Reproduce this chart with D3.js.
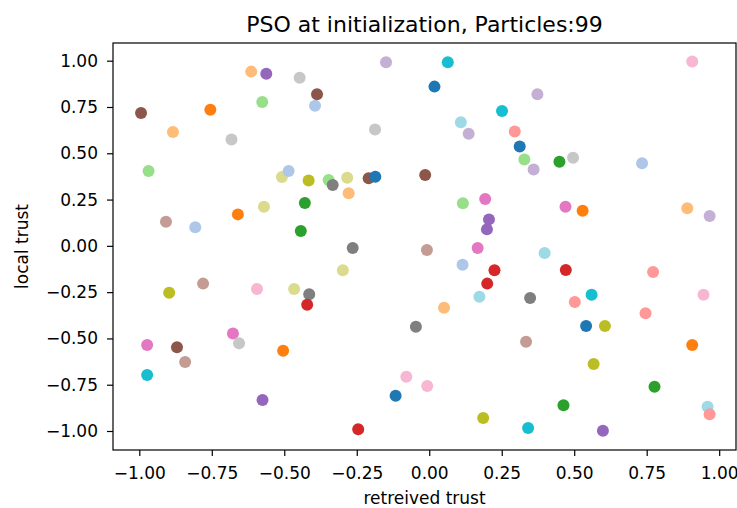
<!DOCTYPE html>
<html>
<head>
<meta charset="utf-8">
<script src="https://cdn.jsdelivr.net/npm/d3@7"></script>
<style>
    body { margin: 0; background: #fff; }
    #chart { width: 737px; height: 508px; overflow: hidden; }
    text { font-family: "DejaVu Sans", sans-serif; fill: #000; }
</style>
</head>
<body>
<div id="chart"></div>
<script>
// matplotlib tab20 palette, colour of each particle is an index into it
const tab20 = ['#1f77b4', '#aec7e8', '#ff7f0e', '#ffbb78', '#2ca02c', '#98df8a', '#d62728', '#ff9896',
    '#9467bd', '#c5b0d5', '#8c564b', '#c49c94', '#e377c2', '#f7b6d2', '#7f7f7f', '#c7c7c7',
    '#bcbd22', '#dbdb8d', '#17becf', '#9edae5'];

const particleX = [-0.994, -0.884, -0.755, -0.682, -0.614, -0.562, -0.576, -0.447, -0.968, -0.508,
    -0.485, -0.416, -0.394, -0.387, -0.149, 0.064, 0.018, 0.251, 0.109, 0.136,
    0.295, 0.312, -0.187, -0.347, -0.333, -0.283, -0.209, -0.186, -0.014, -0.278,
    0.907, 0.373, 0.328, 0.360, 0.449, 0.496, 0.734, -0.429, -0.443, -0.908,
    -0.807, -0.660, -0.570, -0.897, -0.780, -0.594, -0.466, -0.414, -0.421, -0.677,
    -0.973, -0.264, -0.298, 0.116, 0.193, 0.206, 0.199, 0.167, -0.008, 0.115,
    0.225, 0.200, 0.173, 0.051, -0.046, 0.470, 0.529, 0.890, 0.967, 0.398,
    0.471, 0.772, 0.348, 0.502, 0.560, 0.946, 0.746, 0.541, 0.606, 0.334,
    0.907, -0.870, -0.842, -0.973, -0.656, -0.504, -0.575, -0.079, -0.007, -0.116,
    -0.245, 0.186, 0.567, 0.777, 0.463, 0.960, 0.967, 0.341, 0.599];

const particleY = [0.718, 0.615, 0.735, 0.575, 0.941, 0.930, 0.777, 0.908, 0.404, 0.372,
    0.404, 0.353, 0.757, 0.819, 0.991, 0.991, 0.860, 0.728, 0.667, 0.606,
    0.617, 0.536, 0.629, 0.356, 0.329, 0.368, 0.365, 0.373, 0.383, 0.284,
    0.996, 0.819, 0.467, 0.413, 0.454, 0.476, 0.446, 0.231, 0.080, 0.130,
    0.100, 0.170, 0.211, -0.253, -0.204, -0.233, -0.233, -0.262, -0.318, -0.474,
    -0.536, -0.012, -0.132, 0.230, 0.253, 0.143, 0.089, -0.012, -0.022, -0.102,
    -0.132, -0.204, -0.275, -0.334, -0.437, 0.211, 0.190, 0.203, 0.161, -0.039,
    -0.130, -0.141, -0.282, -0.303, -0.264, -0.264, -0.364, -0.433, -0.433, -0.518,
    -0.536, -0.548, -0.627, -0.698, -0.526, -0.566, -0.833, -0.707, -0.757, -0.809,
    -0.991, -0.930, -0.638, -0.761, -0.861, -0.869, -0.910, -0.984, -0.998];

const particleColor = [10, 3, 2, 15, 3, 8, 5, 15, 5, 17,
    1, 16, 1, 10, 9, 18, 0, 18, 19, 9,
    7, 0, 15, 5, 14, 17, 10, 0, 10, 3,
    13, 9, 5, 9, 4, 15, 1, 4, 4, 11,
    1, 2, 17, 16, 11, 13, 17, 14, 6, 12,
    12, 14, 17, 5, 12, 8, 8, 12, 11, 1,
    6, 6, 19, 3, 14, 12, 2, 3, 9, 19,
    6, 7, 14, 7, 18, 13, 7, 0, 16, 11,
    2, 10, 11, 18, 15, 2, 8, 13, 13, 0,
    6, 16, 16, 4, 4, 19, 7, 18, 8];

const xTicks = [-1.0, -0.75, -0.5, -0.25, 0.0, 0.25, 0.5, 0.75, 1.0];
const yTicks = [-1.0, -0.75, -0.5, -0.25, 0.0, 0.25, 0.5, 0.75, 1.0];

const titleText = 'PSO at initialization, Particles:' + particleX.length;
const xLabel = 'retreived trust';
const yLabel = 'local trust';

const width = 737;
const height = 508;
const plot = { left: 113, right: 736, top: 43, bottom: 450 };

const fmt = v => d3.format('.2f')(v).replace('-', '\u2212');

const x = d3.scaleLinear().domain([-1.0907, 1.058]).range([plot.left, plot.right]);
const y = d3.scaleLinear().domain([-1.1026, 1.0956]).range([plot.bottom, plot.top]);

const svg = d3.select('#chart')
    .append('svg')
    .attr('width', width)
    .attr('height', height);

const points = particleX.map((v, i) => ({ x: v, y: particleY[i], c: particleColor[i] }));

svg.append('g')
    .selectAll('circle')
    .data(points)
    .enter().append('circle')
    .attr('cx', d => x(d.x))
    .attr('cy', d => y(d.y))
    .attr('r', 6)
    .style('fill', d => tab20[d.c]);

// frame
svg.append('rect')
    .attr('x', plot.left)
    .attr('y', plot.top)
    .attr('width', plot.right - plot.left)
    .attr('height', plot.bottom - plot.top)
    .style('fill', 'none')
    .style('stroke', '#000')
    .style('stroke-width', 1.2);

let xAxis = svg.append('g')
    .attr('transform', `translate(0,${plot.bottom})`)
    .call(d3.axisBottom(x).tickValues(xTicks).tickFormat(fmt).tickSize(6).tickPadding(11));

let yAxis = svg.append('g')
    .attr('transform', `translate(${plot.left},0)`)
    .call(d3.axisLeft(y).tickValues(yTicks).tickFormat(fmt).tickSize(6).tickPadding(9));

[xAxis, yAxis].forEach(a => {
    a.select('.domain').remove();
    a.selectAll('.tick line').style('stroke', '#000').style('stroke-width', 1.2);
    a.selectAll('.tick text')
        .style('font-family', '"DejaVu Sans", sans-serif')
        .style('font-size', '17px')
        .style('fill', '#000');
});

svg.append('text')
    .attr('x', (plot.left + plot.right) / 2)
    .attr('y', 32)
    .attr('text-anchor', 'middle')
    .style('font-size', '22px')
    .text(titleText);

svg.append('text')
    .attr('x', (plot.left + plot.right) / 2)
    .attr('y', 504)
    .attr('text-anchor', 'middle')
    .style('font-size', '17px')
    .text(xLabel);

svg.append('text')
    .attr('transform', `translate(28,${(plot.top + plot.bottom) / 2}) rotate(-90)`)
    .attr('text-anchor', 'middle')
    .style('font-size', '17px')
    .text(yLabel);
</script>
</body>
</html>
